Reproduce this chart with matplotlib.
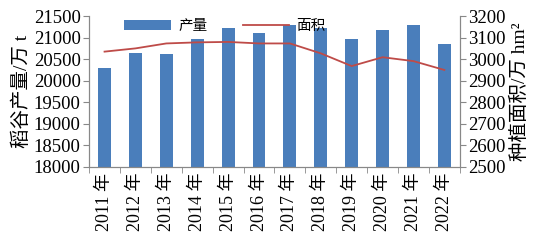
import numpy as np
import matplotlib
matplotlib.use("Agg")
import matplotlib.pyplot as plt

plt.rcParams['font.family'] = ['Liberation Serif', 'Noto Sans CJK SC']

years = ["2011 年", "2012 年", "2013 年", "2014 年", "2015 年", "2016 年",
         "2017 年", "2018 年", "2019 年", "2020 年", "2021 年", "2022 年"]
# rice output (10k t) -- bars, left axis
output = [20290, 20650, 20625, 20960, 21215, 21110,
          21285, 21215, 20960, 21175, 21300, 20860]
# planted area (10k hm2) -- line, right axis
area = [3035, 3050, 3073, 3078, 3080, 3073,
        3073, 3027, 2968, 3009, 2991, 2950]

fig = plt.figure(figsize=(5.5, 2.47), dpi=100)
ax = fig.add_axes([0.162, 0.324, 0.674, 0.611])
x = np.arange(len(years))

ax.bar(x, output, width=0.42, color='#4a7ebb', label='产量', zorder=2)
ax.set_ylim(18000, 21500)
ax.set_yticks(np.arange(18000, 21501, 500))
ax.set_xlim(-0.5, len(years) - 0.5)
ax.set_xticks(x)
ax.set_xticklabels(years, rotation=90, fontsize=13)
ax.set_xticks(np.arange(-0.5, len(years)), minor=True)
ax.tick_params(axis='x', which='major', length=0, pad=4)
ax.tick_params(axis='x', which='minor', length=4, color='#888888')
ax.tick_params(axis='y', labelsize=13.5, length=4, color='#888888', pad=2)
ax.set_ylabel('稻谷产量/万 t', fontsize=14, labelpad=2)

ax2 = ax.twinx()
ax2.plot(x, area, color='#be4b48', lw=1.3, label='面积', zorder=3)
ax2.set_ylim(2500, 3200)
ax2.set_yticks(np.arange(2500, 3201, 100))
ax2.tick_params(axis='y', labelsize=13.5, length=4, color='#888888', pad=2)
ax2.set_ylabel('种植面积/万 hm²', fontsize=14, labelpad=4)

for a in (ax, ax2):
    a.spines['top'].set_visible(False)
    for s in ('left', 'right', 'bottom'):
        a.spines[s].set_color('#888888')

h1, l1 = ax.get_legend_handles_labels()
h2, l2 = ax2.get_legend_handles_labels()
ax.legend(h1 + h2, l1 + l2, loc='upper left', bbox_to_anchor=(0.06, 1.06),
          ncol=2, frameon=False, fontsize=10.5, handlelength=3.2,
          handleheight=0.6, columnspacing=2.4, handletextpad=0.5)

fig.savefig('out.png', dpi=100)
